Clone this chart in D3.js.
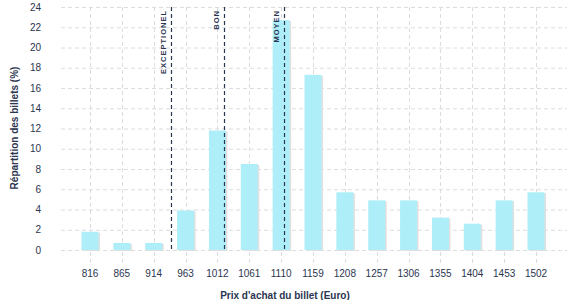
<!DOCTYPE html>
<html>
<head>
<meta charset="utf-8">
<script src="https://cdn.jsdelivr.net/npm/d3@7"></script>
<style>
body { margin: 0; background: #fff; }
svg { display: block; font-family: "Liberation Sans", Arial, sans-serif; }
</style>
</head>
<body>
<script>
// data
const prices = [816, 865, 914, 963, 1012, 1061, 1110, 1159, 1208, 1257, 1306, 1355, 1404, 1453, 1502];
const shares = [1.8, 0.7, 0.7, 3.9, 11.8, 8.5, 22.7, 17.3, 5.7, 4.9, 4.9, 3.2, 2.6, 4.9, 5.7];
const yTicks = [0, 2, 4, 6, 8, 10, 12, 14, 16, 18, 20, 22, 24];
const thresholdLabels = ["EXCEPTIONEL", "BON", "MOYEN"];
const thresholdPrices = [941, 1022, 1115];

const W = 577, H = 300;
const gridLeft = 61, gridRight = 567;
const plotTop = 7, plotBottom = 250;
const ink = "#2b3550";

const svg = d3.select("body").append("svg")
  .attr("width", W)
  .attr("height", H);

const x = d3.scalePoint()
  .domain(prices)
  .range([90, 536]);

// continuous price -> pixel, for the threshold markers
const xPrice = d3.scaleLinear()
  .domain([prices[0], prices[prices.length - 1]])
  .range([x(prices[0]), x(prices[prices.length - 1])]);

const y = d3.scaleLinear()
  .domain([0, 24])
  .range([plotBottom, plotTop]);

// grid
svg.append("g")
  .selectAll("line")
  .data(yTicks)
  .join("line")
  .attr("x1", gridLeft)
  .attr("x2", gridRight)
  .attr("y1", d => y(d) + 0.5)
  .attr("y2", d => y(d) + 0.5)
  .attr("stroke", "#dcdcdc")
  .attr("stroke-dasharray", "4,3");

svg.append("g")
  .selectAll("line")
  .data(prices)
  .join("line")
  .attr("x1", d => Math.round(x(d)) + 0.5)
  .attr("x2", d => Math.round(x(d)) + 0.5)
  .attr("y1", plotTop)
  .attr("y2", 263)
  .attr("stroke", "#dcdcdc")
  .attr("stroke-dasharray", "4,3");

// bars, with a thin grey shadow on the right
const barW = 17;
const bars = svg.append("g");
bars.selectAll("rect.shadow")
  .data(shares)
  .join("rect")
  .attr("class", "shadow")
  .attr("x", (d, i) => x(prices[i]) - barW / 2 + 1.5)
  .attr("y", d => y(d) + 1)
  .attr("width", barW)
  .attr("height", d => plotBottom - y(d))
  .attr("fill", "#e0e0e0");

bars.selectAll("rect.bar")
  .data(shares)
  .join("rect")
  .attr("class", "bar")
  .attr("x", (d, i) => x(prices[i]) - barW / 2)
  .attr("y", d => y(d))
  .attr("width", barW)
  .attr("height", d => plotBottom - y(d))
  .attr("fill", "#aeeef8");

// threshold markers
const marks = svg.append("g")
  .selectAll("g")
  .data(thresholdPrices)
  .join("g");

marks.append("line")
  .attr("x1", d => Math.round(xPrice(d)) + 0.5)
  .attr("x2", d => Math.round(xPrice(d)) + 0.5)
  .attr("y1", plotTop)
  .attr("y2", plotBottom)
  .attr("stroke", ink)
  .attr("stroke-width", 1.2)
  .attr("stroke-dasharray", "4,3");

marks.append("text")
  .attr("transform", d => `translate(${xPrice(d) - 5},10) rotate(-90)`)
  .attr("text-anchor", "end")
  .attr("font-size", 7.5)
  .attr("font-weight", "bold")
  .attr("letter-spacing", 1)
  .attr("fill", ink)
  .text((d, i) => thresholdLabels[i]);

// y axis labels
svg.append("g")
  .selectAll("text")
  .data(yTicks)
  .join("text")
  .attr("x", 41)
  .attr("y", d => y(d))
  .attr("dy", "0.35em")
  .attr("text-anchor", "end")
  .attr("font-size", 10)
  .attr("fill", ink)
  .text(d => d);

// x axis labels
svg.append("g")
  .selectAll("text")
  .data(prices)
  .join("text")
  .attr("x", d => x(d))
  .attr("y", 273)
  .attr("dy", "0.35em")
  .attr("text-anchor", "middle")
  .attr("font-size", 10)
  .attr("fill", ink)
  .text(d => d);

// titles
svg.append("text")
  .attr("x", 285)
  .attr("y", 295)
  .attr("dy", "0.35em")
  .attr("text-anchor", "middle")
  .attr("font-size", 10)
  .attr("font-weight", "bold")
  .attr("fill", ink)
  .text("Prix d'achat du billet (Euro)");

svg.append("text")
  .attr("transform", "translate(14,128) rotate(-90)")
  .attr("dy", "0.35em")
  .attr("text-anchor", "middle")
  .attr("font-size", 10)
  .attr("font-weight", "bold")
  .attr("fill", ink)
  .text("Répartition des billets (%)");
</script>
</body>
</html>
